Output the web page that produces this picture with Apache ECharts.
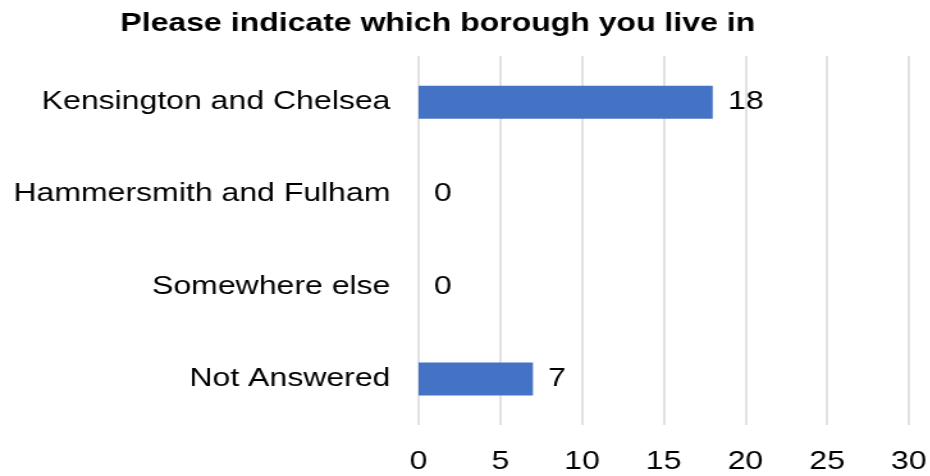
<!DOCTYPE html>
<html><head><meta charset="utf-8">
<script src="https://cdn.jsdelivr.net/npm/echarts@6/dist/echarts.min.js"></script>
<style>html,body{margin:0;padding:0;background:#fff;overflow:hidden}
#c{width:727px;height:476px;transform:scaleX(1.28);transform-origin:0 0}</style>
</head><body><div id="c"></div>
<script>
const categories = ["Kensington and Chelsea", "Hammersmith and Fulham", "Somewhere else", "Not Answered"];
const values = [18, 0, 0, 7];
const titleText = "Please indicate which borough you live in";

const chart = echarts.init(document.getElementById('c'));
chart.setOption({
  animation: false,
  title: {
    text: titleText, left: 337, top: 7, textAlign: 'center',
    textStyle: {fontFamily: 'Liberation Sans, Arial', fontSize: 25, fontWeight: 'bold', color: '#000'}
  },
  grid: {left: 327, right: 17, top: 56, bottom: 51, containLabel: false},
  xAxis: {
    type: 'value', min: 0, max: 30, interval: 5,
    axisLine: {show: false}, axisTick: {show: false},
    splitLine: {lineStyle: {color: '#d9d9d9', width: 1.5}},
    axisLabel: {margin: 25, fontFamily: 'Liberation Sans, Arial', fontSize: 25, color: '#000'}
  },
  yAxis: {
    type: 'category', data: categories, inverse: true,
    axisLine: {show: false}, axisTick: {show: false},
    axisLabel: {margin: 22, fontFamily: 'Liberation Sans, Arial', fontSize: 25, color: '#000'}
  },
  series: [{
    type: 'bar', data: values, barWidth: 33,
    itemStyle: {color: '#4472C4'},
    label: {show: true, position: 'right', distance: 12, fontFamily: 'Liberation Sans, Arial', fontSize: 25, color: '#000'}
  }]
});
</script></body></html>
